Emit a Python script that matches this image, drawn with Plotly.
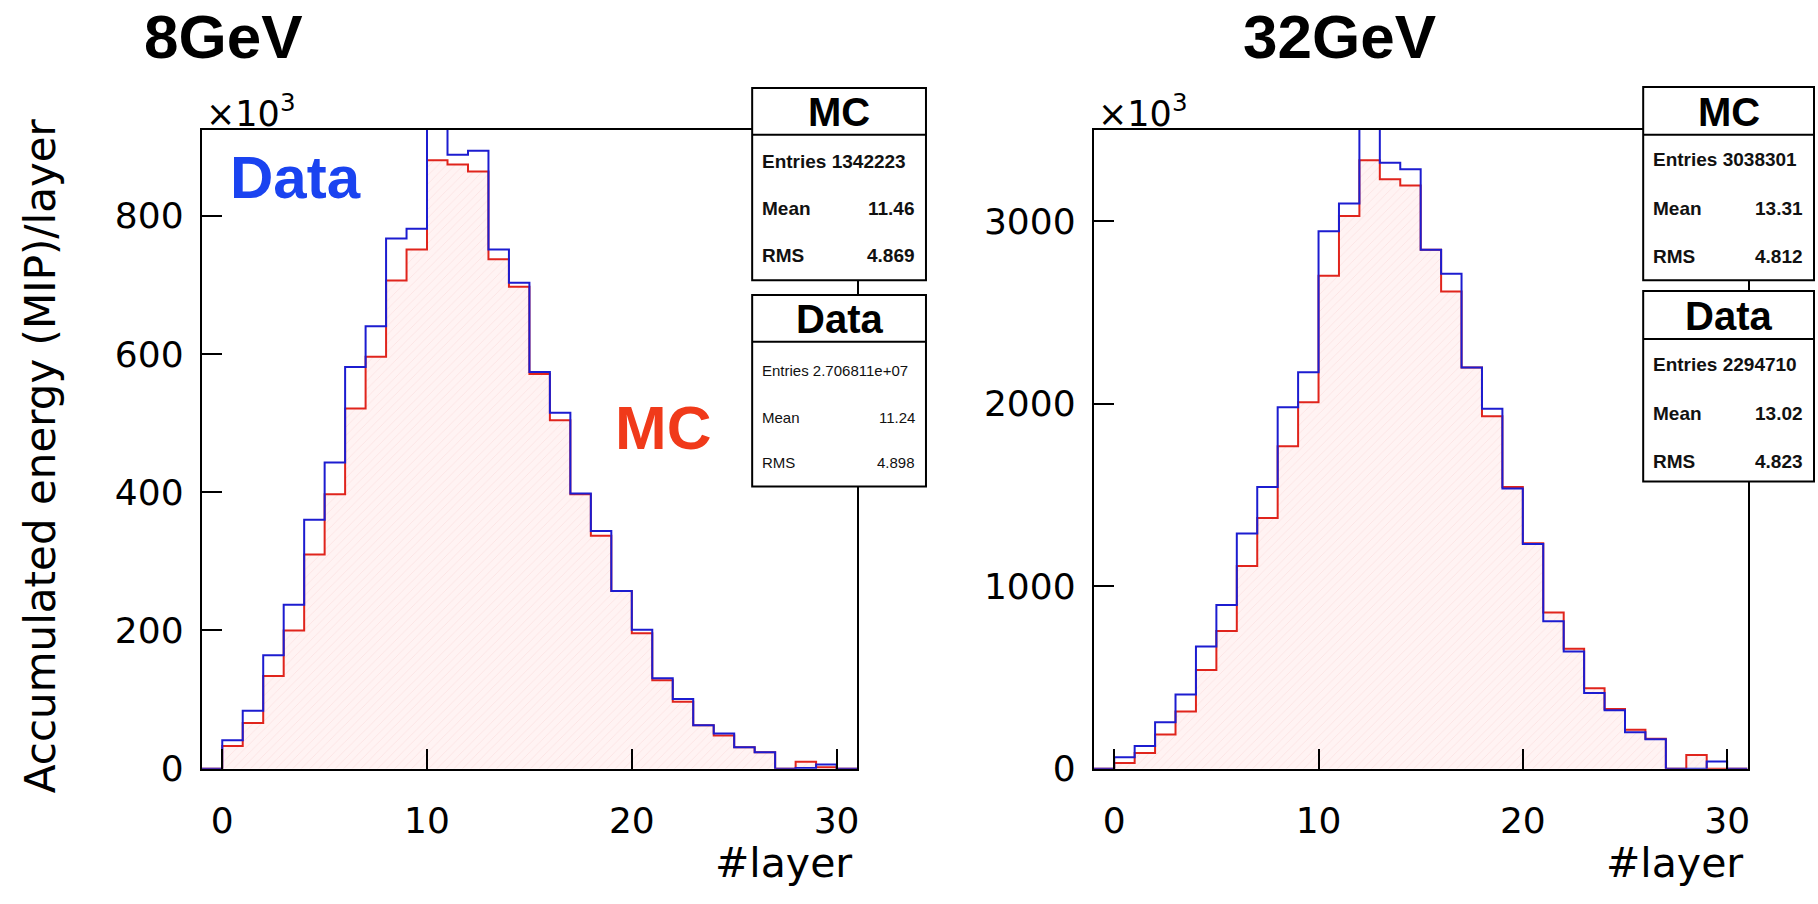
import plotly.graph_objects as go

W, H = 1818, 904

# ---------------- data (values in units of 10^3, bins of width 1 from -1 to 31) -------------
bin_edges = list(range(-1, 32))  # 33 edges -> 32 bins

mc_8 = [0, 33, 66, 134, 200, 310, 397, 521, 596, 706, 751, 880, 874, 864, 737, 697,
        571, 504, 397, 337, 257, 196, 128, 97, 63, 48, 31, 24, 0, 10, 2, 0]
data_8 = [0, 41, 84, 164, 237, 360, 443, 581, 640, 767, 781, 960, 888, 894, 751, 703,
          574, 515, 398, 344, 257, 201, 131, 101, 63, 51, 31, 24, 0, 1, 6, 0]

mc_32 = [0, 32, 86, 188, 313, 541, 755, 1111, 1375, 1768, 2009, 2702, 3030, 3336, 3232, 3197,
         2845, 2616, 2200, 1932, 1545, 1236, 857, 657, 441, 327, 214, 164, 0, 75, 0, 0]
data_32 = [0, 63, 125, 255, 407, 670, 897, 1289, 1545, 1982, 2173, 2946, 3098, 3600, 3322, 3286,
           2845, 2714, 2200, 1973, 1536, 1232, 809, 643, 415, 321, 200, 161, 0, 0, 39, 0]

titles = ["8GeV", "32GeV"]
y_max = [924, 3502]
y_dtick = [200, 1000]
x_ticks = [0, 10, 20, 30]

stats = [
    {"mc": ["Entries 1342223", "11.46", "4.869"], "data": ["Entries 2.706811e+07", "11.24", "4.898"]},
    {"mc": ["Entries 3038301", "13.31", "4.812"], "data": ["Entries 2294710", "13.02", "4.823"]},
]

# ---------------- helpers ----------------
def X(px):
    return px / W

def Y(py):
    return 1 - py / H

def step_xy(vals):
    xs = list(bin_edges[:-1]) + [bin_edges[-1]]
    ys = list(vals) + [vals[-1]]
    return xs, ys

RED = "#e0241c"
BLUE = "#1c1cd0"
SANS = "Liberation Sans, Arial, sans-serif"
AXF = "DejaVu Sans, sans-serif"

fig = go.Figure()

panels = [
    dict(mc=mc_8, data=data_8, xa="x", ya="y"),
    dict(mc=mc_32, data=data_32, xa="x2", ya="y2"),
]
for p in panels:
    xs, ys = step_xy(p["mc"])
    fig.add_trace(go.Scatter(
        x=xs, y=ys, mode="lines", line=dict(color=RED, width=2, shape="hv"),
        fill="tozeroy", fillcolor="rgba(255,243,243,1)",
        fillpattern=dict(shape="/", fgcolor="rgba(240,180,180,0.5)", size=6, solidity=0.15,
                         fillmode="overlay"),
        xaxis=p["xa"], yaxis=p["ya"], showlegend=False, hoverinfo="skip"))
    xs, ys = step_xy(p["data"])
    fig.add_trace(go.Scatter(
        x=xs, y=ys, mode="lines", line=dict(color=BLUE, width=2, shape="hv"),
        xaxis=p["xa"], yaxis=p["ya"], showlegend=False, hoverinfo="skip"))

frames = [(202, 858), (1095, 1749.5)]
ftop, fbot = 133, 787

axis_common = dict(showline=True, linewidth=2, linecolor="black", mirror=True,
                   ticks="inside", ticklen=20, tickwidth=2, tickcolor="black",
                   showgrid=False, zeroline=False,
                   tickfont=dict(family=AXF, size=36, color="black"))

fig.update_layout(
    width=W, height=H, margin=dict(l=0, r=0, t=0, b=0),
    paper_bgcolor="white", plot_bgcolor="white",
    xaxis=dict(domain=[X(frames[0][0]), X(frames[0][1])], range=[-1, 31], anchor="y",
               tickvals=x_ticks, ticklabelstandoff=19, **axis_common),
    yaxis=dict(domain=[Y(fbot), Y(ftop)], range=[0, y_max[0]], anchor="x",
               dtick=y_dtick[0], ticklabelstandoff=9, **axis_common),
    xaxis2=dict(domain=[X(frames[1][0]), X(frames[1][1])], range=[-1, 31], anchor="y2",
                tickvals=x_ticks, ticklabelstandoff=19, **axis_common),
    yaxis2=dict(domain=[Y(fbot), Y(ftop)], range=[0, y_max[1]], anchor="x2",
                dtick=y_dtick[1], ticklabelstandoff=9, **axis_common),
)

ann = []
shapes = []

def text(px, py, s, size, family=SANS, color="black", xanchor="center", bold=False, angle=0):
    ann.append(dict(x=X(px), y=Y(py), xref="paper", yref="paper", text=s, showarrow=False,
                    xanchor=xanchor, yanchor="middle", textangle=angle,
                    font=dict(family=family, size=size, color=color,
                              weight="bold" if bold else "normal")))

# titles
text(224, 37, titles[0], 62, bold=True)
text(1341, 37, titles[1], 62, bold=True)

# y-axis title
text(40, 466, "Accumulated energy (MIP)/layer", 42, family=AXF, angle=-90)

# x10^3 and #layer
for (fl, fr) in frames:
    text(fl + 2, 114, "×10<sup>3</sup>", 35, family=AXF, xanchor="left")
    text(fr - 3, 884, "#layer", 41, family=AXF, xanchor="right")

# big labels inside left plot
text(228, 182, "Data", 60, color="#1a43f0", xanchor="left", bold=True)
text(614, 438, "MC", 62, color="#f03a1a", xanchor="left", bold=True)

# stat boxes
boxes = [
    dict(x0=753, x1=927, mc=(90, 138, 287), data=(302, 350, 498),
         mc_rows=(165, 213, 262), data_rows=(379, 427, 473), small=True),
    dict(x0=1645, x1=1816, mc=(89, 138, 287), data=(298, 347, 493),
         mc_rows=(163, 213, 263), data_rows=(373, 423, 472), small=False),
]
for b, st in zip(boxes, stats):
    for key, rows, small in (("mc", b["mc_rows"], False), ("data", b["data_rows"], b["small"])):
        top, div, bot = b[key]
        shapes.append(dict(type="rect", xref="paper", yref="paper", x0=X(b["x0"]), x1=X(b["x1"]),
                           y0=Y(bot), y1=Y(top), fillcolor="white",
                           line=dict(color="black", width=2), layer="above"))
        shapes.append(dict(type="line", xref="paper", yref="paper", x0=X(b["x0"]), x1=X(b["x1"]),
                           y0=Y(div), y1=Y(div), line=dict(color="black", width=2), layer="above"))
        cx = (b["x0"] + b["x1"]) / 2
        text(cx, (top + div) / 2 + 1, "MC" if key == "mc" else "Data", 40, bold=True)
        fs = 15 if small else 19
        lx, rx = b["x0"] + 8, b["x1"] - 9
        entries, mean, rms = st[key]
        text(lx, rows[0], entries, fs, xanchor="left", bold=not small, color="#111")
        text(lx, rows[1], "Mean", fs, xanchor="left", bold=not small, color="#111")
        text(rx, rows[1], mean, fs, xanchor="right", bold=not small, color="#111")
        text(lx, rows[2], "RMS", fs, xanchor="left", bold=not small, color="#111")
        text(rx, rows[2], rms, fs, xanchor="right", bold=not small, color="#111")

fig.update_layout(annotations=ann, shapes=shapes)
fig.write_html("out.html")
